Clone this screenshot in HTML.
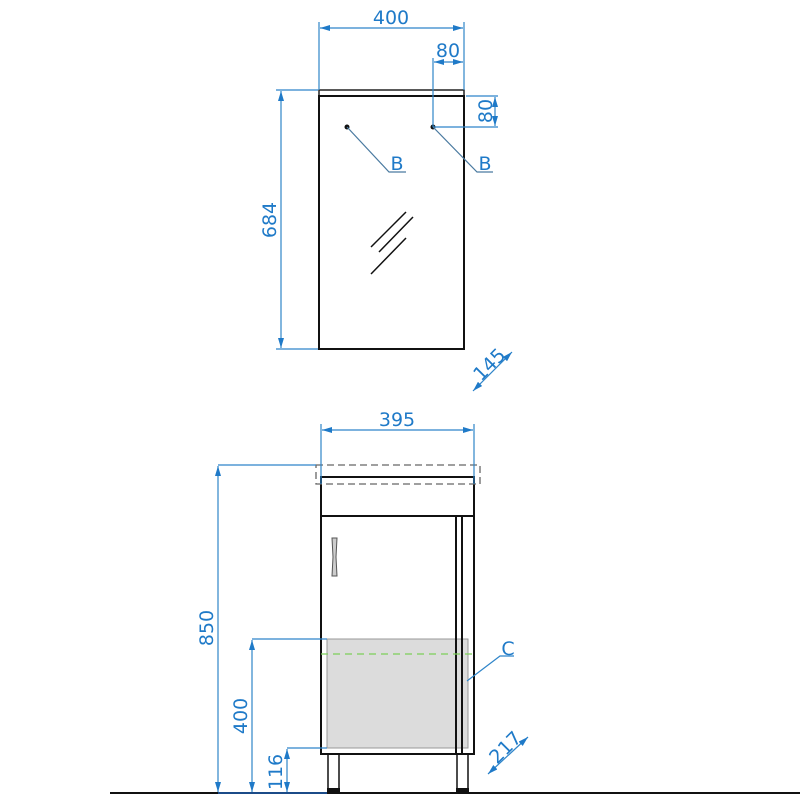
<!DOCTYPE html>
<html><head><meta charset="utf-8"><style>
html,body{margin:0;padding:0;background:#fff;width:800px;height:800px;overflow:hidden}
svg text{font-family:"DejaVu Sans","Liberation Sans",sans-serif;fill:#1f7ac8;font-size:19px}
</style></head><body>
<svg width="800" height="800" viewBox="0 0 800 800" xmlns="http://www.w3.org/2000/svg">
<defs>
<marker id="a" viewBox="0 0 10 6" refX="10" refY="3" markerWidth="10" markerHeight="6" orient="auto-start-reverse" markerUnits="userSpaceOnUse"><path d="M0,0 L10,3 L0,6z" fill="#1f7ac8"/></marker>
</defs>
<!-- mirror -->
<rect x="319" y="90" width="145" height="6" fill="#fff" stroke="#222" stroke-width="1.5"/>
<rect x="319" y="96" width="145" height="253" fill="#fff" stroke="#111" stroke-width="2"/>
<g stroke="#111" stroke-width="1.5">
<line x1="371" y1="247" x2="406" y2="212"/><line x1="379" y1="252" x2="413" y2="217"/><line x1="371" y1="274" x2="406" y2="238"/>
</g>
<circle cx="347" cy="127" r="2.5" fill="#111"/><circle cx="433" cy="127" r="2.5" fill="#111"/>
<!-- cabinet -->
<rect x="327" y="639" width="141" height="109" fill="#dcdcdc" stroke="#999" stroke-width="1"/>
<g stroke="#111" stroke-width="2" fill="none">
<rect x="321" y="477" width="153" height="277"/>
<line x1="321" y1="516" x2="474" y2="516"/>
<line x1="456" y1="516" x2="456" y2="754"/><line x1="462" y1="516" x2="462" y2="754"/>
<rect x="328" y="754" width="11" height="35" stroke-width="1.5"/>
<rect x="457" y="754" width="11" height="35" stroke-width="1.5"/>
</g>
<rect x="327" y="788" width="13" height="4" fill="#111"/><rect x="456" y="788" width="13" height="4" fill="#111"/>
<path d="M332,538 L337,538 L336,557 L337,576 L332,576 L333,557z" fill="#ccc" stroke="#555" stroke-width="1"/>
<rect x="316" y="465" width="164" height="19" fill="none" stroke="#666" stroke-width="1.3" stroke-dasharray="7,4"/>
<line x1="321" y1="654" x2="475" y2="654" stroke="#7ccf5a" stroke-width="1.3" stroke-dasharray="7,5"/>
<line x1="110" y1="793" x2="800" y2="793" stroke="#111" stroke-width="2"/>
<g stroke="#2f85c9" stroke-width="1.2" fill="none">
<!-- mirror dims -->
<line x1="319" y1="22" x2="319" y2="90"/><line x1="464" y1="22" x2="464" y2="90"/>
<line x1="320" y1="28" x2="463" y2="28" marker-start="url(#a)" marker-end="url(#a)"/>
<line x1="433" y1="58" x2="433" y2="127"/>
<line x1="434" y1="62" x2="463" y2="62" marker-start="url(#a)" marker-end="url(#a)"/>
<line x1="466" y1="96" x2="498" y2="96"/><line x1="433" y1="127" x2="498" y2="127"/>
<line x1="495" y1="97" x2="495" y2="126" marker-start="url(#a)" marker-end="url(#a)"/>
<line x1="276" y1="90" x2="318" y2="90"/><line x1="276" y1="349" x2="318" y2="349"/>
<line x1="281" y1="91" x2="281" y2="348" marker-start="url(#a)" marker-end="url(#a)"/>
<line x1="473" y1="391" x2="512" y2="352" marker-start="url(#a)" marker-end="url(#a)"/>
<polyline points="347,127 389,172 406,172" stroke="#4a7aa0"/>
<polyline points="433,127 477,172 493,172" stroke="#4a7aa0"/>
<!-- cabinet dims -->
<line x1="321" y1="424" x2="321" y2="484"/><line x1="474" y1="424" x2="474" y2="484"/>
<line x1="322" y1="430" x2="473" y2="430" marker-start="url(#a)" marker-end="url(#a)"/>
<line x1="218" y1="465" x2="316" y2="465"/>
<line x1="218" y1="466" x2="218" y2="792" marker-start="url(#a)" marker-end="url(#a)"/>
<line x1="252" y1="639" x2="327" y2="639"/>
<line x1="252" y1="640" x2="252" y2="792" marker-start="url(#a)" marker-end="url(#a)"/>
<line x1="287" y1="748" x2="327" y2="748"/>
<line x1="287" y1="749" x2="287" y2="792" marker-start="url(#a)" marker-end="url(#a)"/>
<line x1="218" y1="793" x2="327" y2="793" stroke="#1f5fb0" stroke-width="1.5"/>
<polyline points="467,681 500,656 514,656"/>
<line x1="488" y1="774" x2="528" y2="737" marker-start="url(#a)" marker-end="url(#a)"/>
</g>
<!-- text -->
<text x="391" y="24" text-anchor="middle">400</text>
<text x="448" y="57" text-anchor="middle">80</text>
<text transform="translate(492,111) rotate(-90)" text-anchor="middle">80</text>
<text transform="translate(276,220) rotate(-90)" text-anchor="middle">684</text>
<text transform="translate(494,369) rotate(-45)" text-anchor="middle">145</text>
<text x="397" y="170" text-anchor="middle">B</text>
<text x="485" y="170" text-anchor="middle">B</text>
<text x="397" y="426" text-anchor="middle">395</text>
<text transform="translate(213,628) rotate(-90)" text-anchor="middle">850</text>
<text transform="translate(247,716) rotate(-90)" text-anchor="middle">400</text>
<text transform="translate(282,772) rotate(-90)" text-anchor="middle">116</text>
<text x="508" y="655" text-anchor="middle">C</text>
<text transform="translate(510,752) rotate(-45)" text-anchor="middle">217</text>
</svg>
</body></html>
